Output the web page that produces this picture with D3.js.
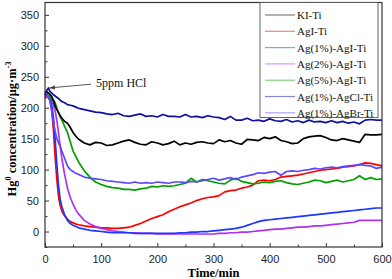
<!DOCTYPE html>
<html>
<head>
<meta charset="utf-8">
<script src="https://cdn.jsdelivr.net/npm/d3@7"></script>
<style>
  body { margin: 0; background: #fff; }
  svg { display: block; }
</style>
</head>
<body>
<div id="canvas"></div>
<script>
// time base (min), shared by all series
var times = [0,3,6,9,12,15,18,21,24,27,30,35,40,45,50,55,60,
  70,80,90,100,110,120,130,140,150,160,170,180,190,200,210,220,230,240,250,
  260,270,280,290,300,310,320,330,340,350,360,370,380,390,400,410,420,430,440,
  450,460,470,480,490,500,510,520,530,540,550,560,570,580,590,600];

var kiTi = [225,226,224,222,218,212,203,197,192,187,183,178,175,168,160,154,149,
  143,140,144,143,139,140,143,146,148,144,141,140,145,143,140,142,146,140,143,
  141,144,145,143,142,148,145,147,143,141,149,148,147,152,150,153,147,145,142,
  143,150,153,154,155,152,148,147,150,148,146,144,157,156,156,157];

var agiTi = [215,218,216,212,195,165,121,85,57,42,33,25,20,16,14,12,11,
  9,8,7,6,6,5,5,6,7,10,13,17,21,24,27,32,36,40,43,
  46,50,53,55,56,58,64,66,67,70,72,75,82,83,82,84,88,89,90,
  91,93,95,97,99,100,101,102,104,105,106,108,111,110,108,106];

var ag1AgiTi = [218,222,220,215,205,185,150,110,75,52,40,27,18,13,10,8,6,
  4,2,1,0,-1,-2,-2,-2,-2,-3,-3,-3,-3,-3,-3,-3,-3,-2,-2,
  -1,-1,0,0,1,2,3,4,5,7,10,13,16,18,19,20,21,22,23,
  24,25,26,27,28,29,30,31,32,33,34,35,36,37,38,38];

var ag2AgiTi = [215,220,222,218,212,205,195,180,160,138,118,92,70,55,44,35,28,
  18,12,8,5,3,1,0,-1,-2,-2,-3,-3,-3,-4,-4,-4,-4,-4,-4,
  -4,-4,-4,-4,-4,-3,-3,-2,-2,-1,-1,0,1,2,3,4,4,5,6,
  7,7,8,9,9,10,11,12,13,14,15,18,18,18,18,18];

var ag5AgiTi = [225,226,222,218,214,212,208,200,192,186,180,170,160,145,130,121,112,
  98,88,80,76,73,71,70,68,68,67,69,70,73,72,74,73,74,76,78,
  86,80,84,82,80,78,77,83,86,81,79,77,78,80,79,81,82,79,77,
  76,78,80,83,82,79,81,83,80,82,84,90,84,87,84,85];

var ag1AgclTi = [220,228,232,226,224,221,219,217,215,212,210,208,205,204,203,201,199,
  197,195,193,192,190,189,191,187,186,188,190,186,187,185,189,186,186,185,189,
  185,186,184,187,185,184,181,186,180,180,183,179,180,178,182,179,178,181,177,
  179,176,180,177,178,176,179,176,178,175,177,174,180,181,180,180];

var ag1AgbrTi = [220,222,218,210,195,176,162,150,143,138,130,118,106,100,97,94,92,
  88,86,85,84,82,81,80,79,78,80,78,79,78,80,79,78,80,80,79,
  81,80,82,84,86,83,85,87,84,88,90,92,95,94,96,97,91,97,98,
  97,99,100,102,101,103,104,103,105,106,107,108,107,106,102,104];

var seriesNames = ['KI-Ti','AgI-Ti','Ag(1%)-AgI-Ti','Ag(2%)-AgI-Ti','Ag(5%)-AgI-Ti','Ag(1%)-AgCl-Ti','Ag(1%)-AgBr-Ti'];
var seriesValues = [kiTi, agiTi, ag1AgiTi, ag2AgiTi, ag5AgiTi, ag1AgclTi, ag1AgbrTi];
var seriesColors = ['#000000','#ff0000','#1a36ff','#b030f0','#00a000','#1010a0','#5c48ff'];
var drawOrder = [1,3,2,4,6,0,5];

var xTicks = [0,100,200,300,400,500,600];
var xMinor = [50,150,250,350,450,550];
var yTicks = [0,50,100,150,200,250,300,350];
var yMinor = [-25,25,75,125,175,225,275,325];

function draw() {
    var width = 392, height = 279;
    var pL = 45, pR = 382, pT = 2.5, pB = 247;

    var svg = d3.select('#canvas').append('svg')
        .attr('width', width)
        .attr('height', height);

    var x = d3.scaleLinear().domain([0, 600]).range([pL, pR]);
    var y = d3.scaleLinear().domain([-25, 370]).range([pB, pT]);

    var line = d3.line()
        .x(function (d) { return x(d[0]); })
        .y(function (d) { return y(d[1]); });

    // curves
    drawOrder.forEach(function (i) {
        var pts = times.map(function (t, j) { return [t, seriesValues[i][j]]; });
        svg.append('path')
            .attr('d', line(pts))
            .attr('fill', 'none')
            .attr('stroke', seriesColors[i])
            .attr('stroke-width', 1.7)
            .attr('stroke-linejoin', 'round');
    });

    // axes, ticks pointing inward
    var tickFont = function (g) {
        g.selectAll('text')
            .attr('font-family', '"Liberation Sans", Arial, sans-serif')
            .attr('font-size', 11)
            .attr('fill', '#222');
        g.selectAll('line').attr('stroke', '#333');
        g.select('.domain').remove();
    };

    svg.append('g')
        .attr('transform', 'translate(0,' + pB + ')')
        .call(d3.axisBottom(x).tickValues(xTicks).tickSize(-4).tickPadding(8))
        .call(tickFont);
    svg.append('g')
        .attr('transform', 'translate(0,' + pB + ')')
        .call(d3.axisBottom(x).tickValues(xMinor).tickSize(-2.5).tickFormat(''))
        .call(tickFont);
    svg.append('g')
        .attr('transform', 'translate(' + pL + ',0)')
        .call(d3.axisLeft(y).tickValues(yTicks).tickSize(-4).tickPadding(6))
        .call(tickFont);
    svg.append('g')
        .attr('transform', 'translate(' + pL + ',0)')
        .call(d3.axisLeft(y).tickValues(yMinor).tickSize(-2.5).tickFormat(''))
        .call(tickFont);

    // frame
    svg.append('rect')
        .attr('x', pL).attr('y', pT)
        .attr('width', pR - pL).attr('height', pB - pT)
        .attr('fill', 'none')
        .attr('stroke', '#333')
        .attr('stroke-width', 1.2);

    // axis titles
    svg.append('text')
        .attr('x', (pL + pR) / 2)
        .attr('y', 277)
        .attr('text-anchor', 'middle')
        .attr('font-family', '"Liberation Serif", "Times New Roman", serif')
        .attr('font-weight', 'bold')
        .attr('font-size', 12.5)
        .text('Time/min');

    var yt = svg.append('text')
        .attr('transform', 'translate(16,129) rotate(-90)')
        .attr('text-anchor', 'middle')
        .attr('font-family', '"Liberation Serif", "Times New Roman", serif')
        .attr('font-weight', 'bold')
        .attr('font-size', 12.5);
    yt.append('tspan').text('Hg');
    yt.append('tspan').attr('font-size', 8).attr('dy', -5).text('0');
    yt.append('tspan').attr('dy', 5).text(' concentration/μg·m');
    yt.append('tspan').attr('font-size', 8).attr('dy', -5).text('-3');

    // annotation
    svg.append('defs').append('marker')
        .attr('id', 'arr')
        .attr('viewBox', '0 0 10 10')
        .attr('refX', 10).attr('refY', 5)
        .attr('markerWidth', 7).attr('markerHeight', 6)
        .attr('orient', 'auto')
        .append('path')
        .attr('d', 'M0,1 L10,5 L0,9 z')
        .attr('fill', '#444');

    svg.append('line')
        .attr('x1', x(82)).attr('y1', y(238))
        .attr('x2', x(8)).attr('y2', y(232))
        .attr('stroke', '#444')
        .attr('stroke-width', 0.9)
        .attr('marker-end', 'url(#arr)');

    svg.append('text')
        .attr('x', x(91))
        .attr('y', y(233))
        .attr('font-family', '"Liberation Serif", "Times New Roman", serif')
        .attr('font-size', 12)
        .attr('fill', '#111')
        .text('5ppm HCl');

    // legend
    var lg = svg.append('g');
    lg.append('rect')
        .attr('x', 260).attr('y', 2.5)
        .attr('width', 118).attr('height', 115)
        .attr('fill', '#fff')
        .attr('stroke', '#555')
        .attr('stroke-width', 0.9);

    seriesNames.forEach(function (name, i) {
        var ly = 15 + i * 16.3;
        lg.append('line')
            .attr('x1', 265).attr('x2', 295)
            .attr('y1', ly).attr('y2', ly)
            .attr('stroke', seriesColors[i])
            .attr('stroke-opacity', 0.5)
            .attr('stroke-width', 1.2);
        lg.append('text')
            .attr('x', 297).attr('y', ly + 4)
            .attr('font-family', '"Liberation Serif", "Times New Roman", serif')
            .attr('font-size', 11)
            .attr('fill', '#111')
            .text(name);
    });
}

draw();
</script>
</body>
</html>
